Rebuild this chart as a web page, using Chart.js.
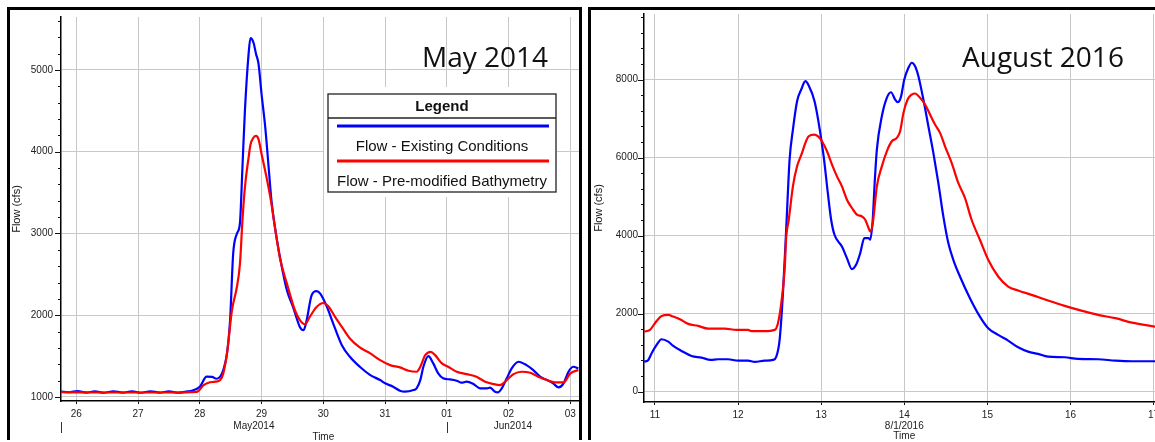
<!DOCTYPE html>
<html><head><meta charset="utf-8">
<script src="https://cdn.jsdelivr.net/npm/chart.js@4.4.1/dist/chart.umd.min.js"></script>
<style>
html,body{margin:0;padding:0;background:#fff;}
body{width:1155px;height:442px;overflow:hidden;position:relative;}
canvas{position:absolute;top:0;}
#c1{left:0;}
#c2{left:588px;}
.box{position:absolute;border-top:3px solid #000;border-left:3px solid #000;pointer-events:none;}
#b1{left:7px;top:7px;width:569px;height:430px;border-right:3px solid #000;}
#b2{left:588px;top:7px;width:600px;height:430px;}
</style></head>
<body>
<canvas id="c1" width="580" height="442"></canvas>
<canvas id="c2" width="620" height="442"></canvas>
<div class="box" id="b1"></div><div class="box" id="b2"></div>
<script>
// ---------------- DATA ----------------
// May 2014 panel (x = day of May; 32 = 01 Jun)
const mayExistingT = [25.75,25.88,26.02,26.16,26.30,26.45,26.60,26.75,26.90,27.05,27.20,27.35,27.50,27.65,27.80,27.87,28.00,28.11,28.20,28.27,28.33,28.38,28.44,28.49,28.54,28.60,28.65,28.69,28.73,28.79,28.82,28.87,28.91,28.95,29.00,29.06,29.11,29.16,29.25,29.30,29.41,29.51,29.62,29.68,29.73,29.81,29.89,29.95,30.06,30.16,30.30,30.43,30.59,30.76,30.92,31.00,31.13,31.24,31.32,31.46,31.51,31.57,31.62,31.70,31.78,31.86,31.94,32.05,32.16,32.24,32.32,32.43,32.54,32.65,32.70,32.78,32.83,32.89,32.97,33.05,33.16,33.29,33.40,33.51,33.62,33.72,33.81,33.89,33.97,34.05,34.13];
const mayExistingQ = [1065,1058,1072,1054,1068,1052,1070,1054,1068,1052,1070,1054,1068,1052,1068,1077,1125,1248,1245,1223,1248,1330,1533,1939,2752,2996,3130,3808,4500,5200,5390,5333,5196,5077,4703,4296,3850,3402,2915,2700,2305,2100,1857,1817,1939,2244,2296,2265,2100,1898,1634,1492,1370,1268,1207,1167,1126,1077,1065,1085,1106,1207,1370,1500,1411,1289,1228,1215,1199,1175,1187,1159,1106,1106,1115,1065,1057,1106,1228,1350,1431,1390,1329,1248,1207,1167,1118,1167,1309,1370,1350];
const mayPremodT = [25.75,26.50,27.50,27.95,28.06,28.14,28.25,28.33,28.38,28.44,28.52,28.60,28.65,28.69,28.73,28.79,28.82,28.87,28.91,28.95,29.00,29.08,29.16,29.20,29.30,29.41,29.54,29.62,29.70,29.78,29.89,30.00,30.08,30.19,30.30,30.43,30.59,30.76,30.92,31.08,31.24,31.38,31.51,31.57,31.65,31.74,31.81,31.92,32.02,32.16,32.32,32.48,32.62,32.75,32.86,32.97,33.08,33.21,33.35,33.48,33.62,33.75,33.89,34.00,34.13];
const mayPremodQ = [1058,1055,1055,1062,1146,1175,1187,1207,1289,1533,2061,2345,2630,3158,3565,3931,4085,4174,4195,4154,3972,3687,3362,3158,2690,2387,2061,1939,1890,1980,2101,2150,2110,1980,1857,1715,1606,1533,1451,1390,1362,1321,1309,1370,1512,1553,1512,1411,1370,1309,1280,1248,1187,1159,1146,1207,1280,1309,1297,1248,1207,1179,1179,1289,1329];
const mayXTicks = [26,27,28,29,30,31,32,33,34];
const mayXLabels = ['26','27','28','29','30','31','01','02','03'];
const mayYMajor = [1000,2000,3000,4000,5000];
const mayYMinor = [1200,1400,1600,1800,2200,2400,2600,2800,3200,3400,3600,3800,4200,4400,4600,4800,5200,5400,5600];
const mayMonths = [{text:'May2014', from:25, to:32},{text:'Jun2014', from:32, to:35}];

// August 2016 panel (x = day of August)
const augExistingT = [10.87,10.92,10.96,11.02,11.08,11.16,11.22,11.32,11.44,11.56,11.67,11.76,11.88,12.00,12.12,12.20,12.32,12.42,12.46,12.50,12.54,12.58,12.62,12.66,12.71,12.76,12.81,12.85,12.92,12.97,13.03,13.08,13.12,13.16,13.25,13.31,13.37,13.42,13.47,13.52,13.57,13.59,13.62,13.645,13.67,13.73,13.79,13.84,13.89,13.92,13.96,14.00,14.05,14.09,14.13,14.17,14.23,14.29,14.35,14.41,14.47,14.53,14.59,14.67,14.79,14.91,15.01,15.13,15.25,15.37,15.49,15.61,15.73,15.93,16.09,16.33,16.54,16.74,17.02];
const augExistingQ = [770,814,985,1199,1344,1284,1173,1045,916,873,814,831,831,796,796,762,796,814,898,1327,2526,4200,5948,6718,7444,7744,7958,7847,7444,6890,6033,5093,4407,4022,3722,3424,3142,3252,3552,3937,3937,3894,4400,5400,6204,7059,7531,7675,7488,7419,7557,8001,8302,8430,8343,8087,7488,6803,6120,5350,4492,3809,3381,2952,2397,1925,1627,1455,1309,1139,1027,968,898,883,839,831,796,780,780];
const augPremodT = [10.87,10.94,11.00,11.08,11.16,11.22,11.30,11.40,11.52,11.64,11.84,11.98,12.12,12.16,12.32,12.44,12.48,12.52,12.56,12.58,12.61,12.62,12.66,12.71,12.77,12.81,12.85,12.92,12.97,13.01,13.07,13.13,13.19,13.25,13.31,13.37,13.43,13.49,13.53,13.57,13.59,13.62,13.67,13.73,13.79,13.85,13.91,13.95,13.99,14.04,14.09,14.13,14.19,14.25,14.31,14.37,14.43,14.49,14.57,14.65,14.73,14.81,14.91,15.01,15.13,15.25,15.37,15.53,15.73,15.93,16.13,16.33,16.54,16.74,17.02];
const augPremodQ = [1540,1584,1756,1943,1969,1925,1858,1738,1686,1617,1617,1584,1584,1550,1550,1584,1756,2269,3124,3979,4407,4580,5263,5776,6120,6376,6546,6590,6530,6418,6161,5820,5519,5263,4921,4708,4536,4492,4407,4194,4107,4300,5263,5776,6161,6418,6504,6675,7146,7488,7616,7642,7531,7360,7103,6846,6633,6290,5863,5350,4965,4407,3894,3381,2952,2695,2593,2482,2336,2200,2079,1969,1884,1771,1669];
const augXTicks = [11,12,13,14,15,16,17];
const augXLabels = ['11','12','13','14','15','16','17'];
const augYMajor = [0,2000,4000,6000,8000];
const augYMinor = [400,800,1200,1600,2400,2800,3200,3600,4400,4800,5200,5600,6400,6800,7200,7600,8400,8800,9200,9600];

const seriesNames = ['Flow - Existing Conditions','Flow - Pre-modified Bathymetry'];
const seriesColors = ['#0000ff','#ff0000'];

// ---------------- DRAWING ----------------
const FONT = "'Liberation Sans', Arial, sans-serif";
const zip = (t,q) => t.map((v,i)=>({x:v, y:q[i]}));

const extras = {
  id:'extras',
  afterDraw(chart, args, o) {
    const ctx = chart.ctx, xs = chart.scales.x, ys = chart.scales.y, ca = chart.chartArea;
    ctx.save();
    // y tick marks (major + minor)
    ctx.strokeStyle = '#111'; ctx.lineWidth = 1;
    const drawTick = (v, len) => {
      const y = Math.round(ys.getPixelForValue(v)) + 0.5;
      ctx.beginPath(); ctx.moveTo(ca.left - len, y); ctx.lineTo(ca.left, y); ctx.stroke();
    };
    o.minor.forEach(v => drawTick(v, 3));
    o.major.forEach(v => drawTick(v, 6));
    // month / date sub labels
    ctx.fillStyle = '#222';
    ctx.font = '10px ' + FONT;
    ctx.textAlign = 'center'; ctx.textBaseline = 'middle';
    (o.months || []).forEach(m => {
      const a = xs.getPixelForValue(Math.max(m.from, xs.min));
      const b = xs.getPixelForValue(Math.min(m.to, xs.max));
      ctx.fillText(m.text, (a + b) / 2, o.subY);
      if (o.separators) {
        const sx = Math.round(a) + 0.5;
        ctx.strokeStyle = '#333';
        ctx.beginPath(); ctx.moveTo(sx, 422); ctx.lineTo(sx, 433); ctx.stroke();
      }
    });
    if (o.dateLabel) ctx.fillText(o.dateLabel.text, xs.getPixelForValue(o.dateLabel.at), o.subY);
    ctx.fillText('Time', xs.getPixelForValue(o.timeAt), o.timeY);
    // big title
    ctx.fillStyle = '#111';
    ctx.font = "28px 'Open Sans', sans-serif";
    ctx.textAlign = 'left'; ctx.textBaseline = 'alphabetic';
    ctx.fillText(o.title.text, o.title.x, o.title.y);
    // legend
    if (o.legend) {
      const L = o.legend;
      ctx.fillStyle = '#fff';
      ctx.fillRect(L.x - 4, L.y - 7, L.w + 5, L.h + 12);
      ctx.strokeStyle = '#222'; ctx.lineWidth = 1.3;
      ctx.strokeRect(L.x, L.y, L.w, L.h);
      ctx.beginPath(); ctx.moveTo(L.x, L.y + 24); ctx.lineTo(L.x + L.w, L.y + 24); ctx.stroke();
      const cx = L.x + L.w / 2;
      ctx.fillStyle = '#111'; ctx.textAlign = 'center';
      ctx.font = 'bold 15px ' + FONT;
      ctx.fillText('Legend', cx, L.y + 17);
      ctx.font = '15px ' + FONT;
      chart.data.datasets.forEach((ds, i) => {
        const ly = L.y + 32 + i * 35;
        ctx.strokeStyle = ds.borderColor; ctx.lineWidth = 3;
        ctx.beginPath(); ctx.moveTo(L.x + 9, ly); ctx.lineTo(L.x + L.w - 7, ly); ctx.stroke();
        ctx.fillStyle = '#111';
        ctx.fillText(ds.label, cx, ly + 24.5);
      });
    }
    ctx.restore();
  }
};

function makeChart(id, c) {
  return new Chart(document.getElementById(id), {
    type: 'line',
    data: {
      datasets: [
        {label: seriesNames[0], data: zip(c.t1, c.q1), borderColor: seriesColors[0], order: 1},
        {label: seriesNames[1], data: zip(c.t2, c.q2), borderColor: seriesColors[1], order: 0}
      ].map(d => Object.assign(d, {borderWidth: 2.2, pointRadius: 0, cubicInterpolationMode: 'monotone', fill: false}))
    },
    options: {
      responsive: false, animation: false, devicePixelRatio: 1,
      layout: {padding: c.pad},
      plugins: {legend: {display: false}, tooltip: {enabled: false}, extras: c.extras},
      scales: {
        x: {
          type: 'linear', min: c.xmin, max: c.xmax,
          afterBuildTicks: s => { s.ticks = c.xt.map(v => ({value: v})); },
          afterFit: s => { s.height = c.xh; },
          ticks: {callback: v => c.xl[c.xt.indexOf(v)], padding: 4, maxRotation: 0, autoSkip: false,
                  font: {family: FONT, size: 10}, color: '#222'},
          grid: {color: '#c8c8c8', lineWidth: 1, drawTicks: true, tickLength: 3, tickColor: '#111'},
          border: {color: '#000', width: 1.5}
        },
        y: {
          type: 'linear', min: c.ymin, max: c.ymax,
          afterBuildTicks: s => { s.ticks = c.ymaj.map(v => ({value: v})); },
          afterFit: s => { s.width = c.yw; },
          ticks: {padding: c.ypad, font: {family: FONT, size: 10}, color: '#222', callback: v => String(v)},
          grid: {color: '#c8c8c8', lineWidth: 1, drawTicks: false},
          border: {color: '#000', width: 1.5},
          title: {display: true, text: 'Flow (cfs)', font: {family: FONT, size: 11}, color: '#111',
                  padding: {top: c.titlePad, bottom: 0}}
        }
      }
    },
    plugins: [extras]
  });
}

makeChart('c1', {
  t1: mayExistingT, q1: mayExistingQ, t2: mayPremodT, q2: mayPremodQ,
  xmin: 25.752, xmax: 34.14, ymin: 951, ymax: 5648,
  xt: mayXTicks, xl: mayXLabels, ymaj: mayYMajor,
  pad: {left: 0, top: 17, right: 1, bottom: 0}, xh: 41, yw: 61, ypad: 8, titlePad: 10,
  extras: {major: mayYMajor, minor: mayYMinor, months: mayMonths, separators: true, subY: 426,
           timeAt: 30, timeY: 437, title: {text: 'May 2014', x: 422, y: 67},
           legend: {x: 328, y: 94, w: 228, h: 98}}
});

makeChart('c2', {
  t1: augExistingT, q1: augExistingQ, t2: augPremodT, q2: augPremodQ,
  xmin: 10.868, xmax: 17.017, ymin: -264, ymax: 9680,
  xt: augXTicks, xl: augXLabels, ymaj: augYMajor,
  pad: {left: 0, top: 14, right: 53, bottom: 0}, xh: 40, yw: 56, ypad: 6, titlePad: 4,
  extras: {major: augYMajor, minor: augYMinor, months: [], dateLabel: {text: '8/1/2016', at: 14}, subY: 426,
           timeAt: 14, timeY: 436, title: {text: 'August 2016', x: 374, y: 67}}
});
</script>
</body></html>
